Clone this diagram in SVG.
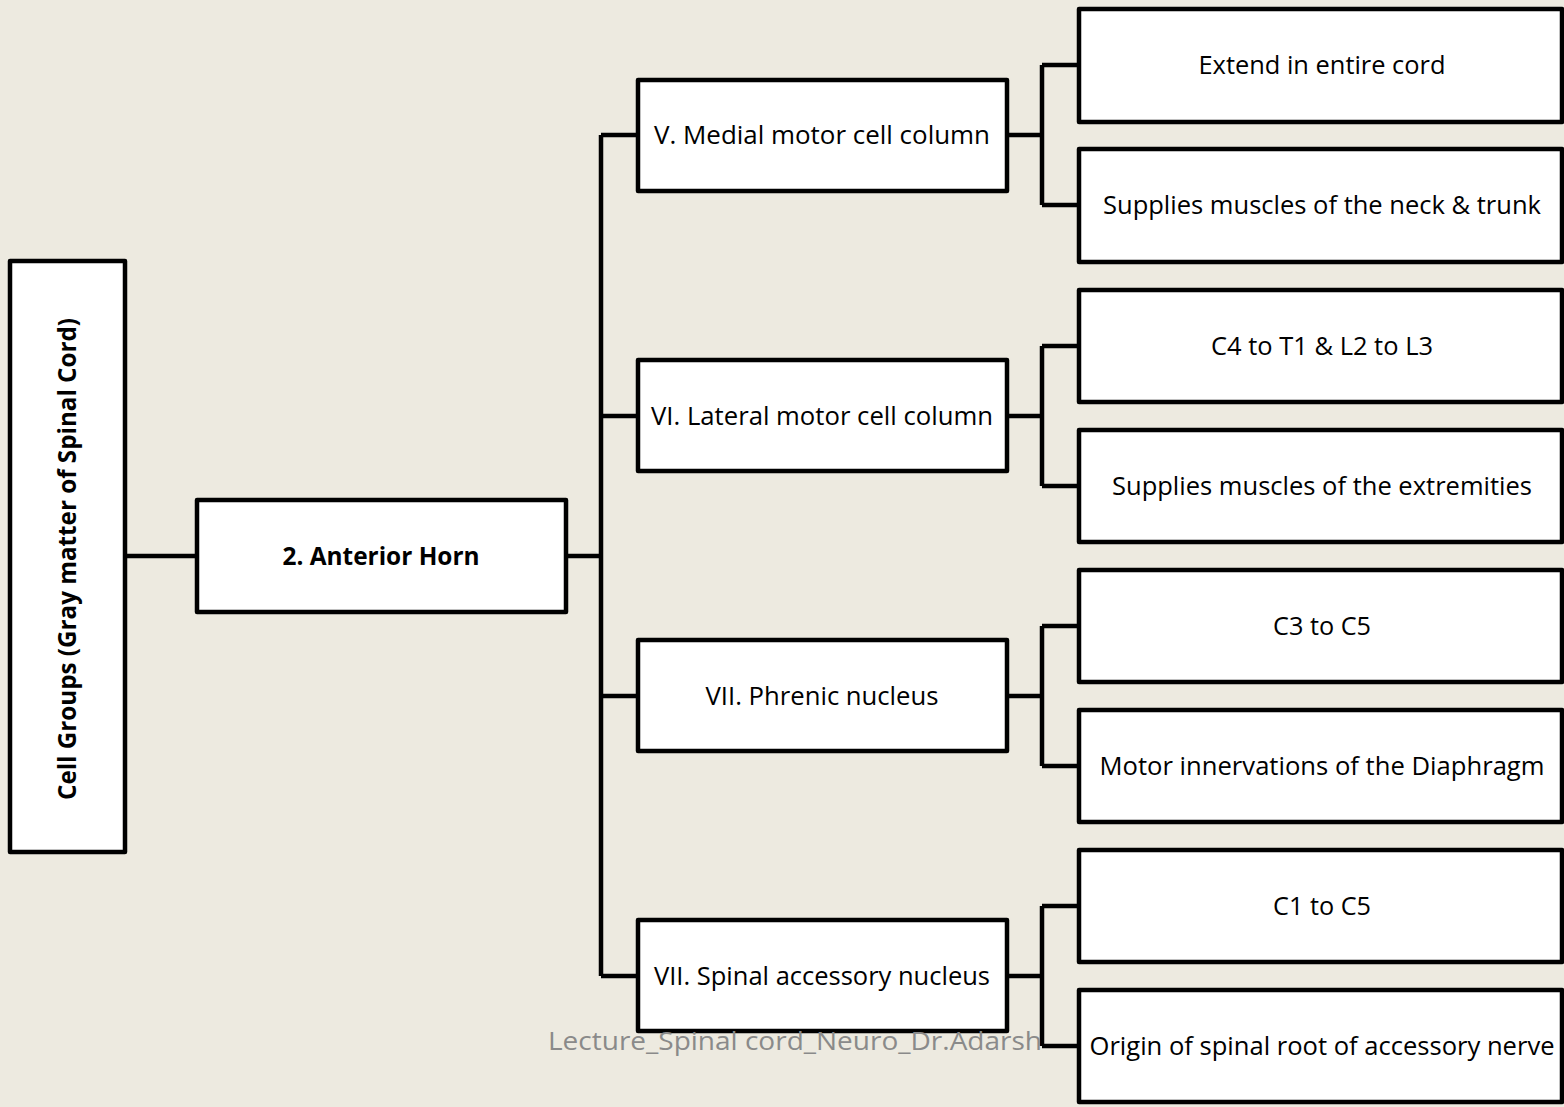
<svg xmlns="http://www.w3.org/2000/svg" width="1564" height="1107" viewBox="0 0 1564 1107">
<style>
.box{fill:#fff;stroke:#000;stroke-width:4.5;stroke-linejoin:round}
.ln{fill:none;stroke:#000;stroke-width:4.5;stroke-linejoin:miter}
.t{font-family:"Open Sans","Liberation Sans",sans-serif;font-size:25px;fill:#000;text-anchor:middle}
.b{font-weight:bold}
.wm{font-family:"Open Sans","Liberation Sans",sans-serif;font-size:26px;fill:#8a8a8a}
</style>
<rect width="1564" height="1107" fill="#EDEAE0"/>
<g id="connectors">
<path class="ln" d="M125 556H197"/>
<path class="ln" d="M566 556H601M601 135V976M601 135H638M601 416H638M601 696H638M601 976H638"/>
<path class="ln" d="M1007 135H1042M1042 65V205M1042 65H1079M1042 205H1079"/>
<path class="ln" d="M1007 416H1042M1042 346V486M1042 346H1079M1042 486H1079"/>
<path class="ln" d="M1007 696H1042M1042 626V766M1042 626H1079M1042 766H1079"/>
<path class="ln" d="M1007 976H1042M1042 906V1046M1042 906H1079M1042 1046H1079"/>
</g>
<g id="root"><rect class="box" x="10" y="261" width="115" height="591"/><text class="t b" transform="translate(76 559) rotate(-90)" textLength="482" lengthAdjust="spacingAndGlyphs">Cell Groups (Gray matter of Spinal Cord)</text></g>
<g id="anterior"><rect class="box" x="197" y="500" width="369" height="112"/><text class="t b" x="381" y="565" textLength="197" lengthAdjust="spacingAndGlyphs">2. Anterior Horn</text></g>
<g id="medial"><rect class="box" x="638" y="80" width="369" height="111"/><text class="t" x="822" y="144" textLength="336" lengthAdjust="spacingAndGlyphs">V. Medial motor cell column</text></g>
<g id="lateral"><rect class="box" x="638" y="360" width="369" height="111"/><text class="t" x="822" y="425" textLength="342" lengthAdjust="spacingAndGlyphs">VI. Lateral motor cell column</text></g>
<g id="phrenic"><rect class="box" x="638" y="640" width="369" height="111"/><text class="t" x="822" y="705" textLength="233" lengthAdjust="spacingAndGlyphs">VII. Phrenic nucleus</text></g>
<g id="accessory"><rect class="box" x="638" y="920" width="369" height="111"/><text class="t" x="822" y="985" textLength="336" lengthAdjust="spacingAndGlyphs">VII. Spinal accessory nucleus</text></g>
<g id="l1"><rect class="box" x="1079" y="9" width="483" height="113"/><text class="t" x="1322" y="74" textLength="247" lengthAdjust="spacingAndGlyphs">Extend in entire cord</text></g>
<g id="l2"><rect class="box" x="1079" y="149" width="483" height="113"/><text class="t" x="1322" y="214" textLength="438" lengthAdjust="spacingAndGlyphs">Supplies muscles of the neck &amp; trunk</text></g>
<g id="l3"><rect class="box" x="1079" y="290" width="483" height="112"/><text class="t" x="1322" y="355" textLength="222" lengthAdjust="spacingAndGlyphs">C4 to T1 &amp; L2 to L3</text></g>
<g id="l4"><rect class="box" x="1079" y="430" width="483" height="112"/><text class="t" x="1322" y="495" textLength="420" lengthAdjust="spacingAndGlyphs">Supplies muscles of the extremities</text></g>
<g id="l5"><rect class="box" x="1079" y="570" width="483" height="112"/><text class="t" x="1322" y="635" textLength="98" lengthAdjust="spacingAndGlyphs">C3 to C5</text></g>
<g id="l6"><rect class="box" x="1079" y="710" width="483" height="112"/><text class="t" x="1322" y="775" textLength="445" lengthAdjust="spacingAndGlyphs">Motor innervations of the Diaphragm</text></g>
<g id="l7"><rect class="box" x="1079" y="850" width="483" height="112"/><text class="t" x="1322" y="915" textLength="98" lengthAdjust="spacingAndGlyphs">C1 to C5</text></g>
<g id="l8"><rect class="box" x="1079" y="990" width="483" height="112"/><text class="t" x="1322" y="1055" textLength="465" lengthAdjust="spacingAndGlyphs">Origin of spinal root of accessory nerve</text></g>
<text class="wm" x="548" y="1050" textLength="494" lengthAdjust="spacingAndGlyphs">Lecture_Spinal cord_Neuro_Dr.Adarsh</text>
</svg>
